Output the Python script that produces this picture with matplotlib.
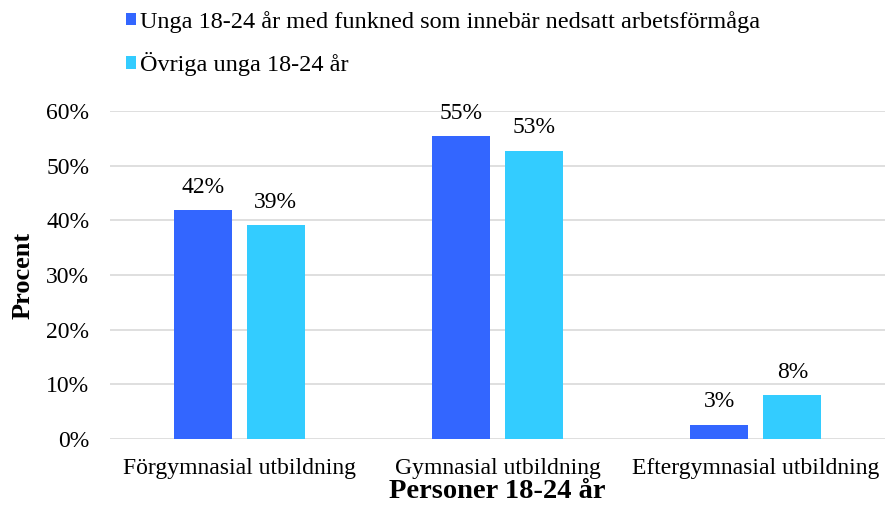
import matplotlib
matplotlib.use('Agg')
from matplotlib import pyplot as plt
import numpy as np

# data
categories = ['Förgymnasial utbildning', 'Gymnasial utbildning', 'Eftergymnasial utbildning']
funkned = [41.8, 55.4, 2.6]
ovriga = [39.1, 52.7, 8.0]
funkned_labels = ['42%', '55%', '3%']
ovriga_labels = ['39%', '53%', '8%']
series_names = ['Unga 18-24 år med funkned som innebär nedsatt arbetsförmåga',
                'Övriga unga 18-24 år']

plt.rcParams['font.family'] = ['Liberation Serif', 'DejaVu Serif']

fig = plt.figure(figsize=(8.85, 5.15), dpi=100)
ax = fig.add_axes([0.1243, 0.1476, 0.8757, 0.6369])

x = np.arange(len(categories))
w = 0.224
b1 = ax.bar(x - 0.141, funkned, w, color='#3366FF', label=series_names[0], zorder=3)
b2 = ax.bar(x + 0.141, ovriga, w, color='#33CCFF', label=series_names[1], zorder=3)

for bars, labels in ((b1, funkned_labels), (b2, ovriga_labels)):
    for bar, lab in zip(bars, labels):
        ax.annotate(lab, (bar.get_x() + bar.get_width() / 2, bar.get_height()),
                    xytext=(0, 9), textcoords='offset points',
                    ha='center', va='bottom', fontsize=17)

ax.set_xlim(-0.5, 2.5)
ax.set_ylim(0, 60)
ax.set_yticks(range(0, 61, 10))
ax.set_yticklabels([f'{v}%' for v in range(0, 61, 10)], fontsize=17)
ax.set_xticks(x)
ax.set_xticklabels(categories, fontsize=17)
ax.tick_params(axis='y', length=0, pad=15)
ax.tick_params(axis='x', length=0, pad=14)
ax.grid(axis='y', color='#D9D9D9', linewidth=1.2, zorder=0)
for s in ax.spines.values():
    s.set_visible(False)

ax.set_ylabel('Procent', fontsize=19, fontweight='bold', labelpad=8)
ax.set_xlabel('Personer 18-24 år', fontsize=20.5, fontweight='bold', labelpad=0)

fig.legend(handles=[b1, b2], loc='upper left', bbox_to_anchor=(0.131, 0.998),
           frameon=False, prop={'family': ['Liberation Serif', 'DejaVu Serif'], 'size': 17.5},
           handlelength=0.42, handleheight=0.42,
           handletextpad=0.15, labelspacing=0.8, borderaxespad=0)

fig.savefig('out.png', dpi=100)
